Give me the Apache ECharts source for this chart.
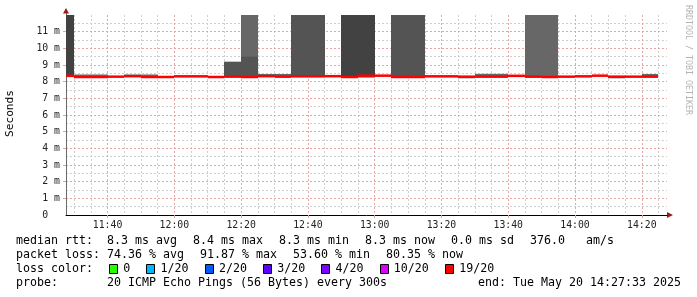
<!DOCTYPE html>
<html><head><meta charset="utf-8">
<script src="https://cdn.jsdelivr.net/npm/echarts@6/dist/echarts.min.js"></script>
<style>html,body{margin:0;padding:0;background:#fff}#c{width:697px;height:297px}</style>
</head><body><div id="c"></div>
<script>
// ---------------- data ----------------
const binStart = ['11:25','11:30','11:35','11:40','11:45','11:50','11:55','12:00','12:05','12:10',
  '12:15','12:20','12:25','12:30','12:35','12:40','12:45','12:50','12:55','13:00',
  '13:05','13:10','13:15','13:20','13:25','13:30','13:35','13:40','13:45','13:50',
  '13:55','14:00','14:05','14:10','14:15','14:20'];
const binMinutes = 5;
const medianMs = [8.35,8.28,8.28,8.30,8.33,8.28,8.28,8.32,8.32,8.28,
  8.30,8.28,8.33,8.30,8.32,8.32,8.33,8.28,8.36,8.36,
  8.28,8.28,8.32,8.32,8.30,8.30,8.30,8.35,8.30,8.28,
  8.30,8.32,8.36,8.30,8.30,8.30];
const smokeLowMs = [8.30,8.28,8.28,null,8.28,8.28,null,null,null,null,
  8.28,8.28,8.28,8.28,8.28,8.28,null,8.25,8.25,null,
  8.25,8.25,null,null,8.20,8.28,8.28,null,8.25,8.25,
  null,null,null,8.20,null,8.28];
const smokeHighMs = [12.5,8.43,8.43,null,8.43,8.43,null,null,null,null,
  9.2,12.5,8.46,8.46,12.5,12.5,null,12.5,12.5,null,
  12.5,12.5,null,null,8.30,8.47,8.47,null,12.5,12.5,
  null,null,null,8.30,null,8.46];
// relative ping density of the smoke (higher = darker)
const smokeDensity = [4,2,2,0,2,2,0,0,0,0,
  3,2,2,2,3,3,0,4,4,0,
  3,3,0,0,2,2,2,0,2,2,
  0,0,0,2,0,2];
const coreHighMs = [null,null,null,null,null,null,null,null,null,null,
  null,9.5,null,null,null,null,null,null,null,null,
  null,null,null,null,null,null,null,null,null,null,
  null,null,null,null,null,null];
const coreDensity = 3;
const viewStart = '11:27:33', viewEnd = '14:27:33';
const xMajorLabels = ['11:40','12:00','12:20','12:40','13:00','13:20','13:40','14:00','14:20'];
const yTickLabels = ['0','1 m','2 m','3 m','4 m','5 m','6 m','7 m','8 m','9 m','10 m','11 m'];
const yMax = 12;
const rttStats = [['avg',8.3],['max',8.4],['min',8.3],['now',8.3]];
const rttSd = 0.0, amPerS = 376.0;
const lossStats = [['avg',74.36],['max',91.87],['min',53.60],['now',80.35]];
const lossColorLabels = ['0','1/20','2/20','3/20','4/20','10/20','19/20'];
const lossColorFills = ['#26ff00','#00b8ff','#0059ff','#5e00ff','#7e00ff','#dd00ff','#ff0000'];
const probeText = '20 ICMP Echo Pings (56 Bytes) every 300s';
const endText = 'end: Tue May 20 14:27:33 2025';
const yAxisTitle = 'Seconds';
const sideText = 'RRDTOOL / TOBI OETIKER';

// ---------------- helpers ----------------
function toMin(t){const p=t.split(':').map(Number);return p[0]*60+p[1]+(p[2]||0)/60;}
function pad2(n){return (n<10?'0':'')+n;}
function fmtHM(v){const m=Math.round(v);return pad2(Math.floor(m/60))+':'+pad2(m%60);}
const SHADES = ['#ffffff','#8a8a8a','#676767','#545454','#424242'];
const MONO = '"DejaVu Sans Mono", monospace';
const G = {left:66, top:15, right:30, bottom:82};
const W = 697, H = 297;

const xMin = toMin(viewStart), xMax = toMin(viewEnd);
const majorVals = xMajorLabels.map(toMin);
const minorVals = [];
for (let m = Math.ceil(xMin/5)*5; m < xMax; m += 5) if (majorVals.indexOf(m) < 0) minorVals.push(m);

const smokeData = [], coreData = [], medianData = [];
binStart.forEach((t,i)=>{
  const s = toMin(t), e = s + binMinutes;
  if (smokeLowMs[i] != null) smokeData.push([s,e,smokeLowMs[i],smokeHighMs[i],smokeDensity[i]]);
  if (coreHighMs[i] != null) coreData.push([s,e,smokeLowMs[i],coreHighMs[i],coreDensity]);
  medianData.push([s,e,medianMs[i]]);
});

function rectRender(params, api){
  const a = api.coord([api.value(0), api.value(3)]);
  const b = api.coord([api.value(1), api.value(2)]);
  const cs = params.coordSys;
  const r = echarts.graphic.clipRectByRect(
    {x:a[0], y:a[1], width:b[0]-a[0], height:b[1]-a[1]},
    {x:cs.x, y:cs.y, width:cs.width, height:cs.height});
  if (!r) return;
  const x0 = Math.round(r.x), x1 = Math.round(r.x + r.width);
  return {type:'rect', shape:{x:x0, y:r.y, width:x1-x0, height:r.height}, style:{fill:SHADES[api.value(4)]}};
}
function medianRender(params, api){
  const a = api.coord([api.value(0), api.value(2)]);
  const b = api.coord([api.value(1), api.value(2)]);
  const cs = params.coordSys;
  const xa = Math.round(Math.max(a[0], cs.x)), xb = Math.round(Math.min(b[0], cs.x + cs.width));
  if (xb <= xa) return;
  return {type:'rect', shape:{x:xa, y:a[1]-1.25, width:xb-xa, height:2.5}, style:{fill:'#ff0000'}};
}

// ---------------- legend graphics ----------------
const FS = 11.63, CW = FS*0.602, GAP = 16, LX = 16;
const LFONT = FS + 'px ' + MONO;
const graphics = [];
function txt(x, y, s, extra){
  graphics.push(Object.assign({type:'text', x:x, y:y, silent:true,
    style:Object.assign({text:s, font:LFONT, fill:'#000', verticalAlign:'middle', align:'left'}, extra||{})}));
}
function flow(y, items){
  let x = LX;
  items.forEach(s=>{ txt(x, y, s); x += s.length*CW + GAP; });
}
const rttItems = rttStats.map((d,i)=> (i===0?'median rtt:  ':'') + d[1].toFixed(1)+' ms '+d[0]);
rttItems.push(rttSd.toFixed(1)+' ms sd');
rttItems.push(amPerS.toFixed(1)+'   am/s');
flow(241, rttItems);
flow(255, lossStats.map((d,i)=> (i===0?'packet loss: ':'') + d[1].toFixed(2)+' % '+d[0]));
// loss colours
txt(LX, 269, 'loss color:');
let lx = LX + 'loss color:'.length*CW + GAP;
lossColorLabels.forEach((lab,i)=>{
  graphics.push({type:'rect', silent:true, shape:{x:Math.round(lx)+0.5, y:264.5, width:8, height:9},
    style:{fill:lossColorFills[i], stroke:'#000', lineWidth:1}});
  txt(lx + 14.3, 269, lab);
  lx += 14.3 + lab.length*CW + GAP;
});
txt(LX, 283, 'probe:       ' + probeText);
txt(681, 283, endText, {align:'right'});
// axis title + side text
graphics.push({type:'text', x:10.5, y:(G.top + (H-G.bottom))/2 - 1.5, rotation:Math.PI/2, silent:true,
  style:{text:yAxisTitle, font:'11.2px '+MONO, fill:'#000', align:'center', verticalAlign:'middle'}});
graphics.push({type:'text', x:688.5, y:60, rotation:-Math.PI/2, silent:true,
  style:{text:sideText, font:'8.3px '+MONO, fill:'#b4b4b4', align:'center', verticalAlign:'middle'}});
// axis arrows
const xr = W - G.right, yb = H - G.bottom;
graphics.push({type:'polygon', silent:true, shape:{points:[[xr+6,yb],[xr,yb-3],[xr,yb+3]]}, style:{fill:'#a01818'}});
graphics.push({type:'polygon', silent:true, shape:{points:[[G.left,G.top-7],[G.left-3,G.top-1.5],[G.left+3,G.top-1.5]]}, style:{fill:'#a01818'}});
graphics.push({type:'line', silent:true, shape:{x1:G.left+0.5,y1:G.top-2,x2:G.left+0.5,y2:G.top}, style:{stroke:'#666',lineWidth:1}});

// ---------------- chart ----------------
const AXF = 9.8;
const chart = echarts.init(document.getElementById('c'), null, {renderer:'canvas'});
chart.setOption({
  animation:false,
  backgroundColor:'#ffffff',
  grid:{left:G.left, top:G.top, right:G.right, bottom:G.bottom, containLabel:false},
  xAxis:[
    {type:'value', min:xMin, max:xMax, position:'bottom',
      axisLine:{show:true, lineStyle:{color:'#000', width:1}},
      axisTick:{show:true, customValues:majorVals, length:3, lineStyle:{color:'#e0a0a0'}},
      axisLabel:{customValues:majorVals, formatter:v=>fmtHM(v), margin:5,
        fontFamily:MONO, fontSize:AXF, color:'#222'},
      splitLine:{show:true, lineStyle:{color:'#e6a4a4', type:[2,2], width:1}}, z:3},
    {type:'value', min:xMin, max:xMax, position:'bottom',
      axisLine:{show:false}, axisLabel:{show:false},
      axisTick:{show:false, customValues:minorVals},
      splitLine:{show:true, lineStyle:{color:'#cfcfcf', type:[2,2], width:1}}, z:2}
  ],
  yAxis:[
    {type:'value', min:0, max:yMax, interval:1,
      axisLine:{show:true, lineStyle:{color:'#6a6a6a', width:1}},
      axisTick:{show:true, customValues:[1,2,3,4,5,6,7,8,9,10,11], length:3, lineStyle:{color:'#e0a0a0'}},
      axisLabel:{customValues:[0,1,2,3,4,5,6,7,8,9,10,11], margin:6,
        formatter:v=> v===0 ? yTickLabels[0]+'  ' : yTickLabels[Math.round(v)],
        fontFamily:MONO, fontSize:AXF, color:'#222'},
      splitLine:{show:true, lineStyle:{color:'#e6a4a4', type:[2,2], width:1}}, z:3},
    {type:'value', min:0, max:yMax, position:'left',
      axisLine:{show:false}, axisLabel:{show:false},
      axisTick:{show:false, customValues:[0.5,1.5,2.5,3.5,4.5,5.5,6.5,7.5,8.5,9.5,10.5,11.5]},
      splitLine:{show:true, lineStyle:{color:'#cfcfcf', type:[2,2], width:1}}, z:2}
  ],
  series:[
    {type:'custom', name:'smoke', xAxisIndex:0, yAxisIndex:0, renderItem:rectRender,
      encode:{x:[0,1], y:[2,3]}, data:smokeData, z:4, silent:true},
    {type:'custom', name:'smoke core', xAxisIndex:0, yAxisIndex:0, renderItem:rectRender,
      encode:{x:[0,1], y:[2,3]}, data:coreData, z:5, silent:true},
    {type:'custom', name:'median rtt', xAxisIndex:0, yAxisIndex:0, renderItem:medianRender,
      encode:{x:[0,1], y:2}, data:medianData, z:6, silent:true}
  ],
  graphic:graphics
});
</script></body></html>
